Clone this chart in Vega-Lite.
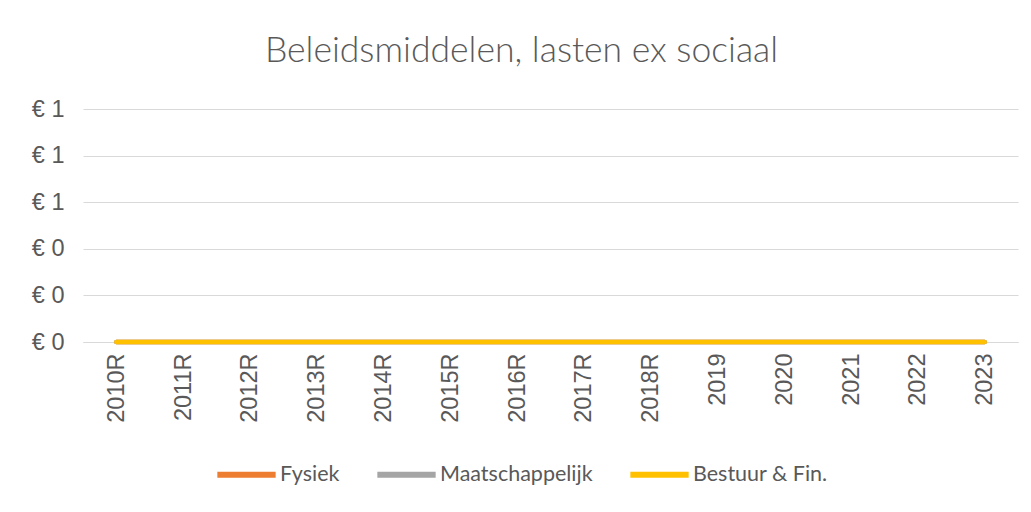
{
  "$schema": "https://vega.github.io/schema/vega-lite/v6.json",
  "width": 935,
  "height": 233,
  "autosize": {"type": "none"},
  "padding": {"left": 83, "top": 109, "right": 13, "bottom": 170},
  "background": "#ffffff",
  "title": {
    "text": "Beleidsmiddelen, lasten ex sociaal",
    "font": "Lato",
    "fontSize": 35.5,
    "fontWeight": 300,
    "color": "#595959",
    "anchor": "middle",
    "dx": -29,
    "offset": 28
  },
  "data": {
    "values": [
      {"jaar": "2010R", "reeks": "Fysiek", "waarde": 0},
      {"jaar": "2011R", "reeks": "Fysiek", "waarde": 0},
      {"jaar": "2012R", "reeks": "Fysiek", "waarde": 0},
      {"jaar": "2013R", "reeks": "Fysiek", "waarde": 0},
      {"jaar": "2014R", "reeks": "Fysiek", "waarde": 0},
      {"jaar": "2015R", "reeks": "Fysiek", "waarde": 0},
      {"jaar": "2016R", "reeks": "Fysiek", "waarde": 0},
      {"jaar": "2017R", "reeks": "Fysiek", "waarde": 0},
      {"jaar": "2018R", "reeks": "Fysiek", "waarde": 0},
      {"jaar": "2019", "reeks": "Fysiek", "waarde": 0},
      {"jaar": "2020", "reeks": "Fysiek", "waarde": 0},
      {"jaar": "2021", "reeks": "Fysiek", "waarde": 0},
      {"jaar": "2022", "reeks": "Fysiek", "waarde": 0},
      {"jaar": "2023", "reeks": "Fysiek", "waarde": 0},
      {"jaar": "2010R", "reeks": "Maatschappelijk", "waarde": 0},
      {"jaar": "2011R", "reeks": "Maatschappelijk", "waarde": 0},
      {"jaar": "2012R", "reeks": "Maatschappelijk", "waarde": 0},
      {"jaar": "2013R", "reeks": "Maatschappelijk", "waarde": 0},
      {"jaar": "2014R", "reeks": "Maatschappelijk", "waarde": 0},
      {"jaar": "2015R", "reeks": "Maatschappelijk", "waarde": 0},
      {"jaar": "2016R", "reeks": "Maatschappelijk", "waarde": 0},
      {"jaar": "2017R", "reeks": "Maatschappelijk", "waarde": 0},
      {"jaar": "2018R", "reeks": "Maatschappelijk", "waarde": 0},
      {"jaar": "2019", "reeks": "Maatschappelijk", "waarde": 0},
      {"jaar": "2020", "reeks": "Maatschappelijk", "waarde": 0},
      {"jaar": "2021", "reeks": "Maatschappelijk", "waarde": 0},
      {"jaar": "2022", "reeks": "Maatschappelijk", "waarde": 0},
      {"jaar": "2023", "reeks": "Maatschappelijk", "waarde": 0},
      {"jaar": "2010R", "reeks": "Bestuur & Fin.", "waarde": 0},
      {"jaar": "2011R", "reeks": "Bestuur & Fin.", "waarde": 0},
      {"jaar": "2012R", "reeks": "Bestuur & Fin.", "waarde": 0},
      {"jaar": "2013R", "reeks": "Bestuur & Fin.", "waarde": 0},
      {"jaar": "2014R", "reeks": "Bestuur & Fin.", "waarde": 0},
      {"jaar": "2015R", "reeks": "Bestuur & Fin.", "waarde": 0},
      {"jaar": "2016R", "reeks": "Bestuur & Fin.", "waarde": 0},
      {"jaar": "2017R", "reeks": "Bestuur & Fin.", "waarde": 0},
      {"jaar": "2018R", "reeks": "Bestuur & Fin.", "waarde": 0},
      {"jaar": "2019", "reeks": "Bestuur & Fin.", "waarde": 0},
      {"jaar": "2020", "reeks": "Bestuur & Fin.", "waarde": 0},
      {"jaar": "2021", "reeks": "Bestuur & Fin.", "waarde": 0},
      {"jaar": "2022", "reeks": "Bestuur & Fin.", "waarde": 0},
      {"jaar": "2023", "reeks": "Bestuur & Fin.", "waarde": 0}
    ]
  },
  "mark": {"type": "line", "strokeWidth": 4.5, "strokeCap": "round", "strokeJoin": "round"},
  "encoding": {
    "x": {
      "field": "jaar",
      "type": "ordinal",
      "sort": null,
      "scale": {"type": "point", "padding": 0.5},
      "axis": {
        "title": null,
        "labelAngle": -90,
        "labelFont": "Liberation Sans",
        "labelFontSize": 23.5,
        "labelColor": "#595959",
        "labelPadding": 11,
        "ticks": false,
        "domain": true,
        "domainColor": "#D9D9D9",
        "domainWidth": 1,
        "grid": false
      }
    },
    "y": {
      "field": "waarde",
      "type": "quantitative",
      "scale": {"domain": [0, 1], "nice": false},
      "axis": {
        "title": null,
        "values": [0, 0.2, 0.4, 0.6, 0.8, 1],
        "labelExpr": "'€ ' + format(datum.value, '.0f')",
        "labelFont": "Liberation Sans",
        "labelFontSize": 23.5,
        "labelColor": "#595959",
        "labelPadding": 19,
        "ticks": false,
        "domain": false,
        "grid": true,
        "gridColor": "#D9D9D9",
        "gridWidth": 1
      }
    },
    "color": {
      "field": "reeks",
      "type": "nominal",
      "sort": ["Fysiek", "Maatschappelijk", "Bestuur & Fin."],
      "scale": {
        "domain": ["Fysiek", "Maatschappelijk", "Bestuur & Fin."],
        "range": ["#ED7D31", "#A5A5A5", "#FFC000"]
      },
      "legend": {
        "title": null,
        "orient": "none",
        "direction": "horizontal",
        "legendX": 131,
        "legendY": 333,
        "symbolType": "stroke",
        "symbolSize": 3400,
        "symbolStrokeWidth": 6,
        "labelFont": "Lato",
        "labelFontSize": 21.5,
        "labelColor": "#595959",
        "labelOffset": 1,
        "columnPadding": 25,
        "symbolOffset": 0
      }
    }
  },
  "config": {"view": {"stroke": null}}
}
